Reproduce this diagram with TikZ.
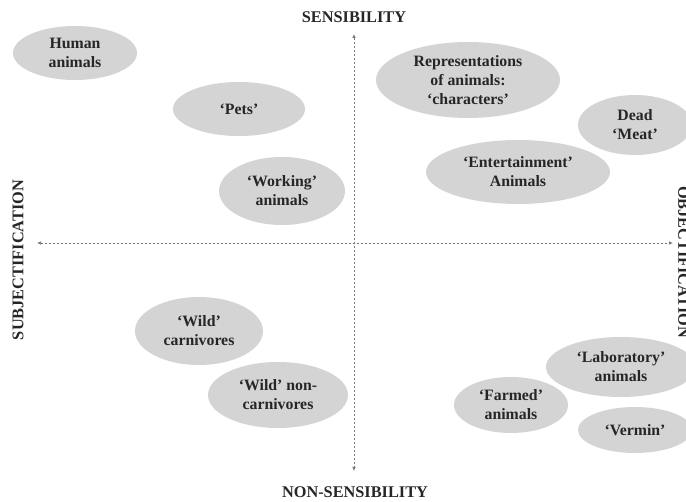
\documentclass[tikz,border=0pt]{standalone}
\usepackage{fontspec}
\setmainfont{Liberation Serif}
\usetikzlibrary{shapes.geometric,arrows.meta}
\definecolor{blobfill}{RGB}{212,212,212}
\definecolor{axiscol}{RGB}{120,120,120}
\tikzset{
  blob/.style={ellipse, fill=blobfill, inner sep=0pt, align=center,
    font=\fontsize{15.8}{19}\selectfont\bfseries, text=black!85},
  axislab/.style={font=\fontsize{16.3}{18}\selectfont\bfseries, inner sep=0pt, text=black!85},
  axisline/.style={draw=axiscol, line width=0.7pt, dash pattern=on 2pt off 2pt,
    {Latex[length=4pt,width=3.5pt]}-{Latex[length=4pt,width=3.5pt]}}
}
\begin{document}
\begin{tikzpicture}[x=1pt,y=-1pt]
\useasboundingbox (0,0) rectangle (686,502);
\clip (0,0) rectangle (686,502);
\fill[white] (0,0) rectangle (686,502);
% axes
\coordinate (top) at (354,34);
\coordinate (bot) at (354,471);
\coordinate (lft) at (37,243);
\coordinate (rgt) at (673,243);
\draw[axisline] (top) -- (bot);
\draw[axisline] (lft) -- (rgt);
% axis labels
\node[axislab] (sens) at (354,17) {SENSIBILITY};
\node[axislab] (nonsens) at (355,492) {NON-SENSIBILITY};
\node[axislab, rotate=90] (subj) at (18,260) {SUBJECTIFICATION};
\node[axislab, rotate=-90, anchor=south] (obj) at (678,262) {OBJECTIFICATION};
% ellipses
\node[blob, minimum width=124, minimum height=54] (human) at (75,53) {Human\\animals};
\node[blob, minimum width=132, minimum height=54] (pets) at (239,109) {`Pets'};
\node[blob, minimum width=126, minimum height=68] (working) at (282,191) {`Working'\\animals};
\node[blob, minimum width=184, minimum height=76] (repr) at (468,80) {Representations\\of animals:\\`characters'};
\node[blob, minimum width=114, minimum height=60] (dead) at (635,125) {Dead\\`Meat'};
\node[blob, minimum width=184, minimum height=64] (ent) at (518,172) {`Entertainment'\\Animals};
\node[blob, minimum width=128, minimum height=68] (wildc) at (199,331) {`Wild'\\carnivores};
\node[blob, minimum width=140, minimum height=66] (wildn) at (278,395) {`Wild' non-\\carnivores};
\node[blob, minimum width=150, minimum height=60] (lab) at (621,367) {`Laboratory'\\animals};
\node[blob, minimum width=114, minimum height=56] (farm) at (511,405) {`Farmed'\\animals};
\node[blob, minimum width=114, minimum height=46] (vermin) at (635,430) {`Vermin'};
\end{tikzpicture}
\end{document}
